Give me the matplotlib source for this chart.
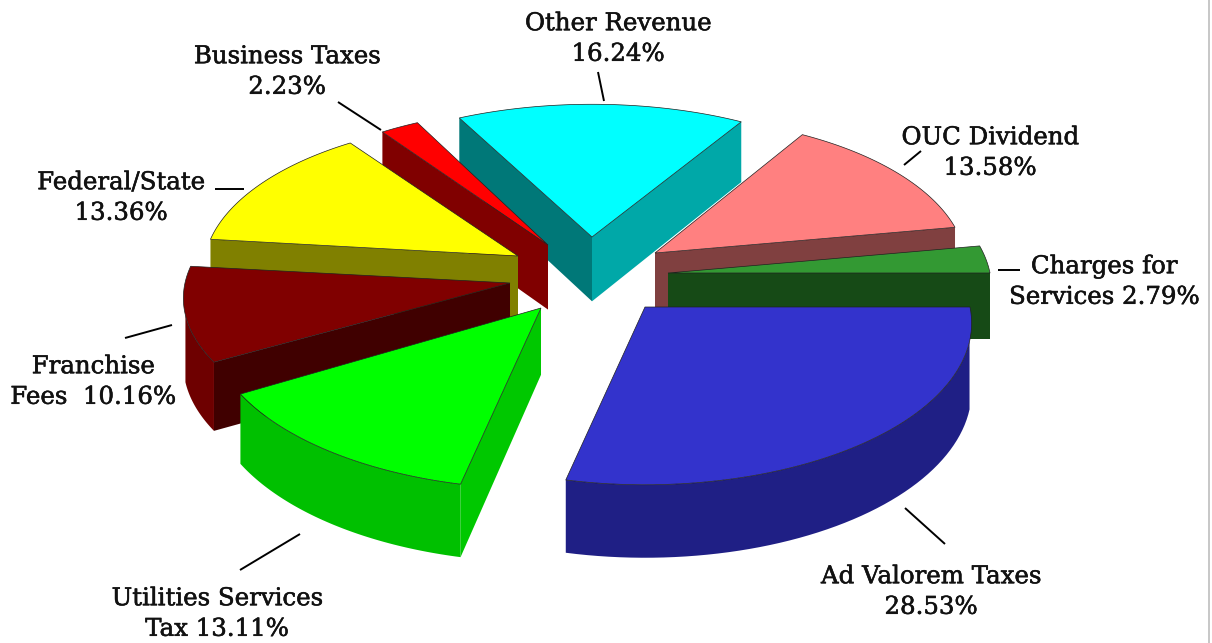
import numpy as np
import matplotlib
matplotlib.use("Agg")
import matplotlib.pyplot as plt
import matplotlib.patheffects as pe
from matplotlib.patches import Polygon

# 各部分的名称和百分比（顺时针，从正右方开始）
names = ["Ad Valorem Taxes\n{}%", "Utilities Services\nTax {}%", "Franchise\nFees  {}%",
         "Federal/State\n{}%", "Business Taxes\n{}%", "Other Revenue\n{}%",
         "OUC Dividend\n{}%", "Charges for\nServices {}%"]
shares = [28.53, 13.11, 10.16, 13.36, 2.23, 16.24, 13.58, 2.79]

# 颜色：顶面、起始侧壁、结束侧壁、外弧面
top_colors = ["#3333CC", "#00FF00", "#800000", "#FFFF00", "#FF0000", "#00FFFF", "#FF8080", "#339933"]
start_colors = ["#1C1C80", "#00C800", "#400000", "#808000", "#800000", "#007878", "#804040", "#164A16"]
end_colors = ["#1C1C80", "#00C800", "#400000", "#808000", "#800000", "#00A8A8", "#804040", "#164A16"]
rim_colors = ["#1F1F85", "#00C000", "#6E0000", "#808000", "#800000", "#00A8A8", "#804040", "#164A16"]

# 每块的布局（爆炸后的顶点位置和半径，像素）
apex_x = [645, 541, 510, 518, 548, 592, 655, 668]
apex_y = [307, 308, 283, 256, 245, 237, 253, 273]
radius_x = [325, 330, 325, 313, 309, 314, 310, 322]
radius_y = [160, 163, 150, 150, 150, 146, 150, 158]
perspective = 0.1

# 标签位置和引线
label_x = [931, 217, 93, 121, 287, 618, 990, 1104]
label_y = [592, 614, 382, 198, 72, 39, 153, 282]
leaders = [[(905, 508), (945, 544)], [(240, 570), (300, 534)], [(125, 338), (172, 325)],
           [(215, 189), (244, 189)], [(338, 102), (381, 130)], [(598, 72), (604, 101)],
           [(904, 165), (921, 151)], [(998, 270), (1020, 270)]]


def project(i, theta):
    # 圆盘上的点投影到屏幕，远处略微缩小
    u = np.cos(theta)
    v = -np.sin(theta)
    f = 1 / (1 + perspective * v)
    return apex_x[i] + radius_x[i] * u * f, apex_y[i] - radius_y[i] * v * f


def drop(y):
    # 厚度随屏幕位置略有变化
    return 56 + 0.035 * y


def extrude(xs, ys):
    # 把一条上边线向下拉成一个面
    xs = np.asarray(xs, dtype=float)
    ys = np.asarray(ys, dtype=float)
    return np.column_stack([np.r_[xs, xs[::-1]], np.r_[ys, (ys + drop(ys))[::-1]]])


fig = plt.figure(figsize=(12.12, 6.43), dpi=100)
ax = fig.add_axes([0, 0, 1, 1])
ax.set_xlim(0, 1212)
ax.set_ylim(643, 0)
ax.axis("off")

# 右边那条灰色竖线
ax.plot([1209, 1209], [0, 643], color="#BDBDBD", lw=1.2)

bounds = np.radians(np.r_[0, np.cumsum(shares)] * 3.6)

# 从后往前画
for i in np.argsort(apex_y):
    t0, t1 = bounds[i], bounds[i + 1]
    theta = np.linspace(t0, t1, 60)
    ex, ey = project(i, theta)

    # 侧壁只画朝向观察者的那一面
    if np.cos(t0) < 0:
        ax.add_patch(Polygon(extrude([apex_x[i], ex[0]], [apex_y[i], ey[0]]),
                             fc=start_colors[i], ec="none"))
    if np.cos(t1) > 0:
        ax.add_patch(Polygon(extrude([apex_x[i], ex[-1]], [apex_y[i], ey[-1]]),
                             fc=end_colors[i], ec="none"))

    # 外弧面，两端转折处不露出来
    front = np.sin(theta) > 0.2
    if front.sum() > 1:
        ax.add_patch(Polygon(extrude(ex[front], ey[front]), fc=rim_colors[i], ec="none"))

    # 顶面
    ax.add_patch(Polygon(np.column_stack([np.r_[apex_x[i], ex], np.r_[apex_y[i], ey]]),
                         fc=top_colors[i], ec="#202020", lw=0.5))

for i in range(len(shares)):
    ax.plot(*zip(*leaders[i]), color="black", lw=1.4, solid_capstyle="butt")
    ax.text(label_x[i], label_y[i], names[i].format(shares[i]), ha="center", va="center",
            family=["DejaVu Serif"], fontsize=17.6, linespacing=1.42, color="#111111",
            path_effects=[pe.withStroke(linewidth=0.4, foreground="#111111")])

fig.savefig("out.png", dpi=100, facecolor="white")
